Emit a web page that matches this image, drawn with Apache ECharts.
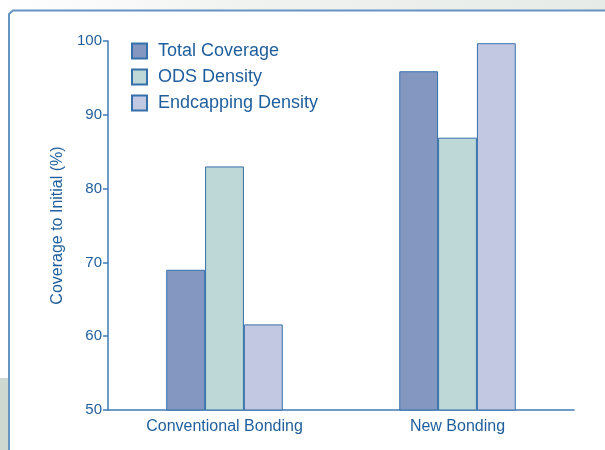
<!DOCTYPE html>
<html lang="en" style="height: 100%">
<head>
  <meta charset="utf-8">
  <script type="text/javascript" src="https://cdn.jsdelivr.net/npm/echarts@6/dist/echarts.min.js"></script>
</head>
<body style="height: 100%; margin: 0">
  <div id="chart" style="height: 450px; width: 605px"></div>
  <script type="text/javascript">
    var categories = ['Conventional Bonding', 'New Bonding'];
    var seriesNames = ['Total Coverage', 'ODS Density', 'Endcapping Density'];
    var totalCoverage = [69, 95.9];
    var odsDensity = [83, 86.9];
    var endcapDensity = [61.6, 99.7];
    var colors = ['#8497c0', '#bdd8d6', '#c3c8e2'];

    var blue = '#1f5e9c';
    var lineBlue = '#3f7bb5';

    var chart = echarts.init(document.getElementById('chart'));

    var values = [totalCoverage, odsDensity, endcapDensity];
    var series = [];
    for (var i = 0; i < seriesNames.length; i++) {
      series.push({
        name: seriesNames[i],
        type: 'bar',
        data: values[i],
        barGap: '0%',
        barCategoryGap: '50%',
        itemStyle: { color: colors[i], borderColor: '#3570ab', borderWidth: 1 }
      });
    }

    var option = {
      backgroundColor: '#ffffff',
      animation: false,
      textStyle: { fontFamily: 'Liberation Sans, Arial, sans-serif' },
      graphic: [
        { type: 'rect', shape: { x: 0, y: 0, width: 605, height: 10 },
          style: { fill: new echarts.graphic.LinearGradient(0, 0, 1, 0, [
            { offset: 0, color: '#ffffff' }, { offset: 0.4, color: '#f1f3f1' }, { offset: 1, color: '#e6ebe8' }]) }, silent: true },
        { type: 'rect', shape: { x: 0, y: 378, width: 9, height: 72 },
          style: { fill: '#cdd8d1' }, silent: true },
        { type: 'polyline', shape: { points: [[9, 450], [9, 14], [13, 10.5], [605, 10.5]] },
          style: { stroke: '#6694c2', lineWidth: 2, fill: null }, silent: true }
      ],
      legend: {
        orient: 'vertical',
        left: 126,
        top: 37,
        icon: 'rect',
        itemWidth: 15,
        itemHeight: 15,
        itemGap: 8,
        data: seriesNames,
        textStyle: { color: blue, fontSize: 18, padding: [0, 0, 0, 6] }
      },
      grid: { left: 108, right: 31, top: 41, bottom: 40 },
      xAxis: {
        type: 'category',
        data: categories,
        axisLine: { lineStyle: { color: lineBlue, width: 1.5 } },
        axisTick: { show: false },
        axisLabel: { color: blue, fontSize: 16, margin: 9 }
      },
      yAxis: {
        type: 'value',
        min: 50,
        max: 100,
        interval: 10,
        name: 'Coverage to Initial (%)',
        nameLocation: 'middle',
        nameGap: 38,
        nameTextStyle: { color: blue, fontSize: 16 },
        axisLine: { show: true, lineStyle: { color: lineBlue, width: 1.5 } },
        axisTick: { show: true, length: 5, lineStyle: { color: lineBlue, width: 1.5 } },
        axisLabel: { color: blue, fontSize: 15, margin: 6 },
        splitLine: { show: false }
      },
      series: series
    };

    chart.setOption(option);
  </script>
</body>
</html>
